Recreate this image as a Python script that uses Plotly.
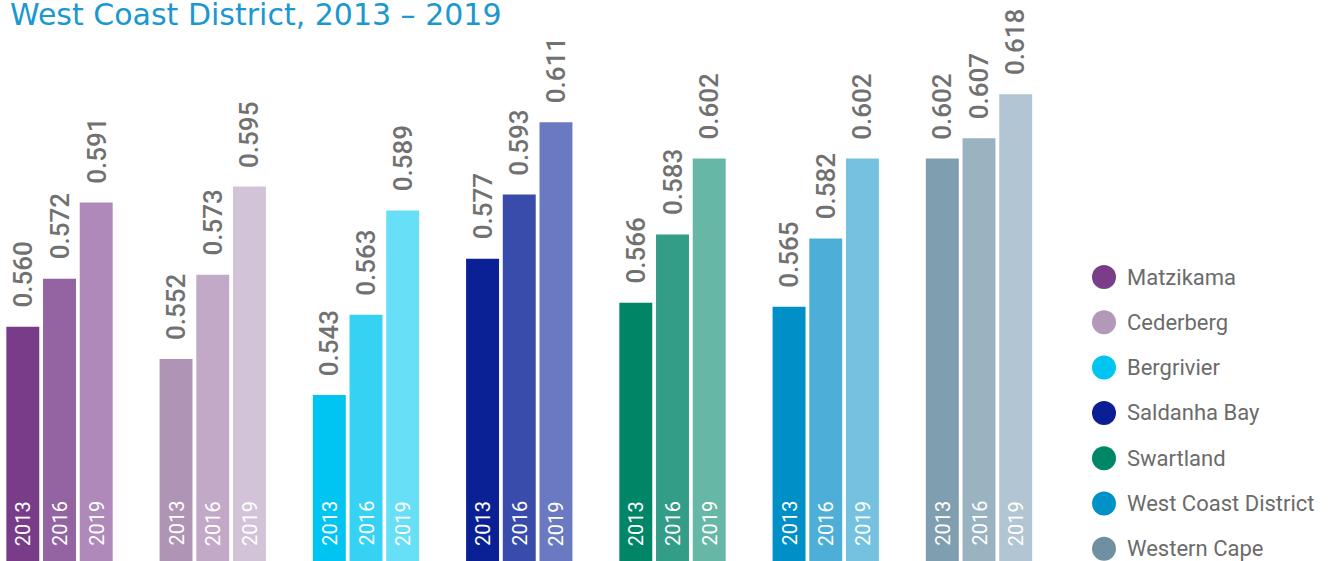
import plotly.graph_objects as go

# ---- data -------------------------------------------------------------
districts = ["Matzikama", "Cederberg", "Bergrivier", "Saldanha Bay",
             "Swartland", "West Coast District", "Western Cape"]
years = ["2013", "2016", "2019"]
hdi_2013 = [0.560, 0.552, 0.543, 0.577, 0.566, 0.565, 0.602]
hdi_2016 = [0.572, 0.573, 0.563, 0.593, 0.583, 0.582, 0.607]
hdi_2019 = [0.591, 0.595, 0.589, 0.611, 0.602, 0.602, 0.618]

# one shade per year (dark -> light) for every district
shades = [
    ["#793c88", "#9363a2", "#ae89b9"],
    ["#b094b5", "#c3a9c8", "#d3c3d8"],
    ["#00c5f2", "#36d2f3", "#66dff7"],
    ["#0a2196", "#3a4cab", "#6a7ac2"],
    ["#008566", "#349d87", "#66b7a6"],
    ["#008fc6", "#4dafd8", "#74c1e0"],
    ["#7f9eb0", "#9ab3c1", "#b1c6d2"],
]
legend_dots = ["#7a3d89", "#b398b9", "#00c4f2", "#0a1f94",
               "#008767", "#0091c6", "#7090a2"]

# ---- geometry ---------------------------------------------------------
W, H = 1332, 561
bar_w = 0.215          # bar width in category units
step = 0.2395          # distance between bars inside a group
y_lo, y_hi = 0.5016, 0.6415
x_lo = -0.3883
x_hi = x_lo + W / 153.25

value_font = dict(family="Roboto", size=26, color="#717171", weight=500)
year_font = dict(family="Roboto", size=20, color="#ffffff")

fig = go.Figure()
annotations = []

for i, name in enumerate(districts):
    vals = [hdi_2013[i], hdi_2016[i], hdi_2019[i]]
    xs = [i + (k - 1) * step for k in range(3)]
    fig.add_trace(go.Bar(
        x=xs, y=vals, width=bar_w, name=name,
        marker=dict(color=shades[i], line=dict(width=0)),
        showlegend=False, hoverinfo="skip",
    ))
    for x, v, yr in zip(xs, vals, years):
        annotations.append(dict(
            x=x, y=v, xref="x", yref="y", text=f"{v:.3f}",
            showarrow=False, textangle=-90, xanchor="center",
            yanchor="bottom", yshift=17, font=value_font))
        annotations.append(dict(
            x=x, y=y_lo, xref="x", yref="y", text=yr,
            showarrow=False, textangle=-90, xanchor="center",
            yanchor="bottom", yshift=13, font=year_font))

# ---- legend (dots + labels) -------------------------------------------
shapes = []
leg_x_dot, leg_x_txt, leg_y0, leg_dy = 1104, 1125, 277, 45.3
for i, name in enumerate(districts):
    cy = leg_y0 + i * leg_dy
    shapes.append(dict(
        type="circle", xref="paper", yref="paper",
        xsizemode="pixel", ysizemode="pixel",
        xanchor=leg_x_dot / W, yanchor=1 - cy / H,
        x0=-12, x1=12, y0=-12, y1=12,
        fillcolor=legend_dots[i], line=dict(width=0)))
    annotations.append(dict(
        x=leg_x_txt / W, y=1 - cy / H, xref="paper", yref="paper",
        text=name, showarrow=False, xanchor="left", yanchor="middle",
        font=dict(family="Roboto", size=22, color="#6b6b6b")))

# ---- title ------------------------------------------------------------
annotations.append(dict(
    x=8 / W, y=1, xref="paper", yref="paper",
    text="West Coast District, 2013 – 2019", showarrow=False,
    xanchor="left", yanchor="top", yshift=5,
    font=dict(family="DejaVu Sans", size=30, color="#1b98cf")))

fig.update_layout(
    width=W, height=H,
    margin=dict(l=0, r=0, t=0, b=0, autoexpand=False),
    paper_bgcolor="white", plot_bgcolor="white",
    barmode="overlay",
    xaxis=dict(range=[x_lo, x_hi], visible=False, fixedrange=True),
    yaxis=dict(range=[y_lo, y_hi], visible=False, fixedrange=True),
    annotations=annotations, shapes=shapes,
)

fig.write_html("out.html")
